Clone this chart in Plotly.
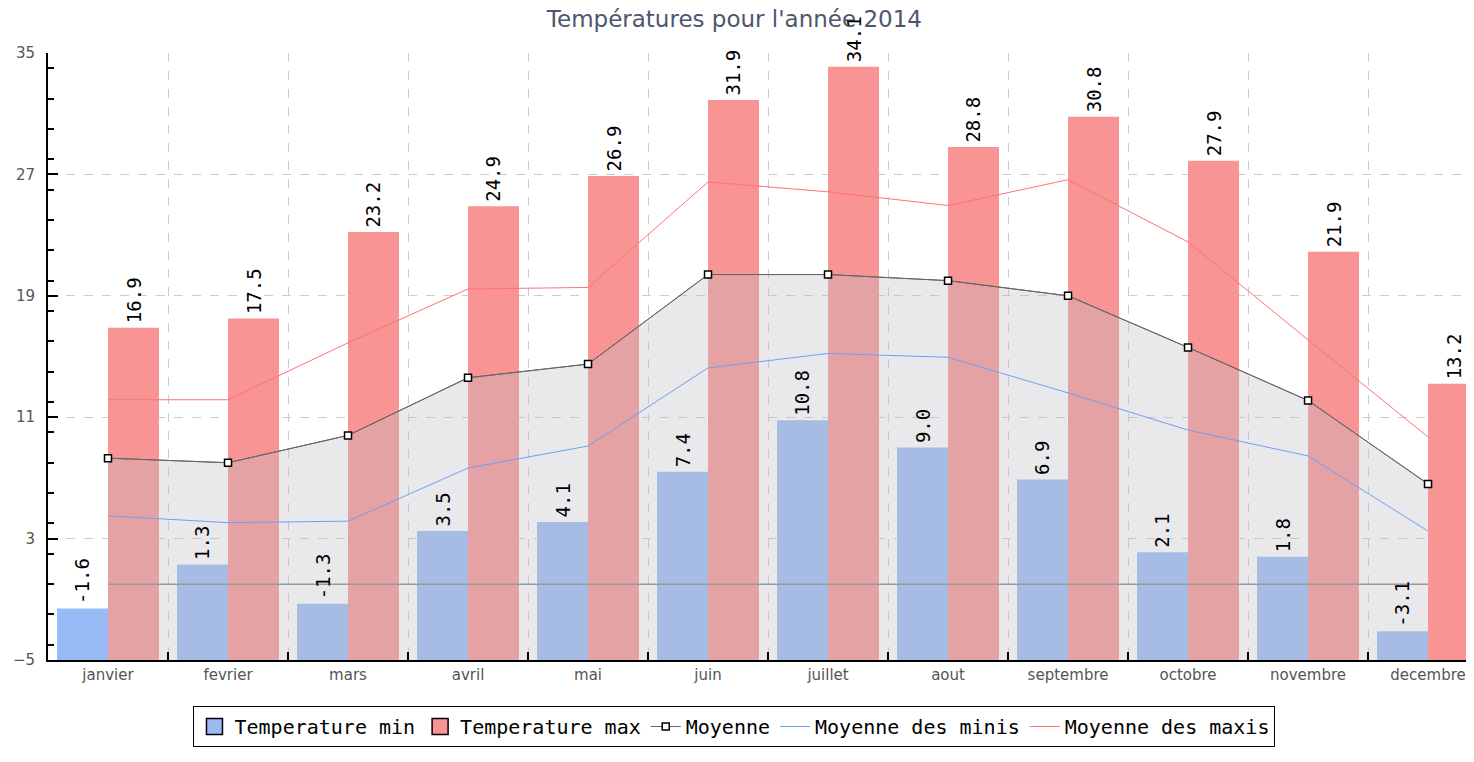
import plotly.graph_objects as go

# temperatures mensuelles 2014
months = ["janvier", "fevrier", "mars", "avril", "mai", "juin", "juillet",
          "aout", "septembre", "octobre", "novembre", "decembre"]
temp_min = [-1.6, 1.3, -1.3, 3.5, 4.1, 7.4, 10.8, 9.0, 6.9, 2.1, 1.8, -3.1]
temp_max = [16.9, 17.5, 23.2, 24.9, 26.9, 31.9, 34.1, 28.8, 30.8, 27.9, 21.9, 13.2]
moyenne = [8.3, 8.0, 9.8, 13.6, 14.5, 20.4, 20.4, 20.0, 19.0, 15.6, 12.1, 6.6]
moy_minis = [4.5, 4.05, 4.15, 7.65, 9.1, 14.25, 15.2, 14.95, 12.6, 10.15, 8.45, 3.5]
moy_maxis = [12.15, 12.15, 15.9, 19.45, 19.55, 26.5, 25.85, 24.95, 26.65, 22.55, 16.1, 9.7]

Y_MIN = -5
Y_MAX = 35

BLUE = "#99bbf5"
RED = "#f89494"
MONO = "DejaVu Sans Mono"
BAR_SHIFT = 25.5  # demi-largeur d'une barre en px

fig = go.Figure()

# barres: partent du bas de l'axe
fig.add_trace(go.Bar(x=months, y=[v - Y_MIN for v in temp_min], base=Y_MIN,
                     name="Temperature min", marker_color=BLUE, marker_line_width=0,
                     showlegend=False))
fig.add_trace(go.Bar(x=months, y=[v - Y_MIN for v in temp_max], base=Y_MIN,
                     name="Temperature max", marker_color=RED, marker_line_width=0,
                     showlegend=False))

# zone grise sous la moyenne
fig.add_trace(go.Scatter(x=months, y=[Y_MIN] * len(months), mode="lines",
                         line=dict(width=0), showlegend=False, hoverinfo="skip"))
fig.add_trace(go.Scatter(x=months, y=moyenne, mode="lines", fill="tonexty",
                         fillcolor="rgba(190,190,200,0.34)",
                         line=dict(color="#666666", width=1), showlegend=False))

# ligne du zero
fig.add_trace(go.Scatter(x=months, y=[0] * len(months), mode="lines",
                         line=dict(color="#999999", width=1.5), showlegend=False,
                         hoverinfo="skip"))

# entrees de legende pour les barres
fig.add_trace(go.Scatter(x=[None], y=[None], mode="markers", name="Temperature min",
                         marker=dict(symbol="square", size=17, color=BLUE,
                                     line=dict(color="black", width=1.5))))
fig.add_trace(go.Scatter(x=[None], y=[None], mode="markers", name="Temperature max",
                         marker=dict(symbol="square", size=17, color=RED,
                                     line=dict(color="black", width=1.5))))

fig.add_trace(go.Scatter(x=months, y=moyenne, mode="lines+markers", name="Moyenne",
                         line=dict(color="#666666", width=1),
                         marker=dict(symbol="square", size=7, color="white",
                                     line=dict(color="black", width=1.5))))
fig.add_trace(go.Scatter(x=months, y=moy_minis, mode="lines", name="Moyenne des minis",
                         line=dict(color="#6f9ff0", width=1)))
fig.add_trace(go.Scatter(x=months, y=moy_maxis, mode="lines", name="Moyenne des maxis",
                         line=dict(color="#ff7373", width=1)))

# valeurs au-dessus des barres (au premier plan)
for vals, shift in ((temp_min, -BAR_SHIFT), (temp_max, BAR_SHIFT)):
    for m, v in zip(months, vals):
        fig.add_annotation(x=m, y=v, text=f"{v:.1f}", showarrow=False,
                           textangle=-90, xshift=shift, yshift=2,
                           xanchor="center", yanchor="bottom",
                           font=dict(family=MONO, size=19, color="black"))

# la page ajoute une marge de 8 px autour du graphique
fig.update_layout(
    width=1466, height=754,
    margin=dict(l=40, r=0, t=45, b=102),
    plot_bgcolor="white", paper_bgcolor="white",
    barmode="group", bargap=0.15, bargroupgap=0,
    title=dict(text="Températures pour l'année 2014", x=0.4955, xref="container",
               xanchor="center", y=1 - 11 / 754, yanchor="middle",
               font=dict(family="DejaVu Sans", size=23, color="#4d566e")),
    legend=dict(orientation="h", x=0.4814, xanchor="center", y=-0.0758, yanchor="top",
                traceorder="normal",
                bordercolor="black", borderwidth=1, bgcolor="white",
                font=dict(family=MONO, size=20, color="black"), itemwidth=30),
    showlegend=True,
)

fig.update_xaxes(type="category", range=[-0.5, 11.383], tickson="boundaries",
                 ticks="inside", ticklen=8, tickwidth=2, tickcolor="black",
                 showline=True, linecolor="black", linewidth=2, automargin=False,
                 showgrid=True, gridcolor="#cccccc", griddash="dash", gridwidth=1,
                 tickfont=dict(family="DejaVu Sans", size=15, color="#555555"))
fig.update_yaxes(range=[Y_MIN, Y_MAX], tick0=Y_MIN, dtick=8,
                 ticks="inside", ticklen=10, tickwidth=2, tickcolor="black",
                 minor=dict(dtick=2, ticks="inside", ticklen=6, tickwidth=2,
                            tickcolor="black", showgrid=False),
                 showline=True, linecolor="black", linewidth=2, automargin=False,
                 showgrid=True, gridcolor="#cccccc", griddash="dash", gridwidth=1,
                 zeroline=False, ticklabelstandoff=8,
                 tickfont=dict(family="DejaVu Sans", size=15, color="#555555"))

fig.write_html("out.html")
